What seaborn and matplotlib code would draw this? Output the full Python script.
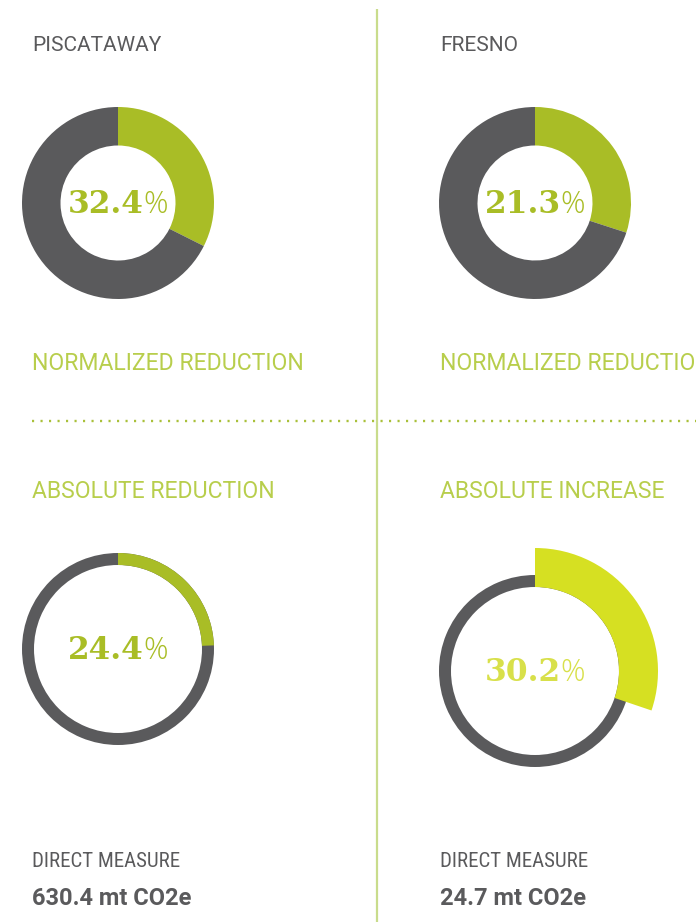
import matplotlib
matplotlib.use("Agg")
import matplotlib.pyplot as plt
import seaborn as sns
from matplotlib import font_manager

# values
sites = ['PISCATAWAY', 'FRESNO']
normalized_pct = [32.4, 21.3]        # printed in the ring centre
normalized_arc = [32.4, 30.0]        # share the green arc actually covers
absolute_labels = ['ABSOLUTE REDUCTION', 'ABSOLUTE INCREASE']
absolute_pct = [24.4, 30.2]
direct_measure = ['630.4 mt CO2e', '24.7 mt CO2e']

GREEN = '#A9BD26'
LABEL_GREEN = '#B8CE4C'
YELLOW = '#D6E022'
YELLOW_TXT = '#D8E04A'
GRAY = '#5A5A5C'
LINE_GREEN = '#C9DC8C'

sns.set_theme(style='white')

available = {f.name for f in font_manager.fontManager.ttflist}
def pick(*names):
    for n in names:
        if n in available:
            return n
    return 'DejaVu Sans'

COND = pick('Roboto Condensed', 'Liberation Sans Narrow', 'DejaVu Sans')
SANS = pick('Roboto', 'DejaVu Sans')
SLAB = pick('DejaVu Serif')
THIN = pick('Open Sans', 'Lato', 'DejaVu Sans')
plt.rcParams['font.family'] = [SANS, 'DejaVu Sans']

W, H = 696, 922
fig = plt.figure(figsize=(W / 100, H / 100), dpi=100)
ax = fig.add_axes([0, 0, 1, 1])

col_x = [32, 440]          # left edge of text columns
ring_cx = [118, 535]
top_cy = H - 203
bot_cy = [H - 649, H - 671]


def center_number(cx, cy, value, color):
    t1 = ax.text(cx, cy, f'{value:.1f}', fontfamily=SLAB, fontweight='bold',
                 fontsize=22.5, color=color, ha='left', va='baseline')
    t2 = ax.text(cx, cy, '%', fontfamily=THIN, fontweight='light',
                 fontsize=22, color=color, ha='left', va='baseline')
    return t1, t2


pairs = []
for i, site in enumerate(sites):
    ax.text(col_x[i], H - 51, site, fontsize=15, color=GRAY, ha='left',
            va='baseline')
    v = normalized_arc[i]
    ax.pie([v, 100 - v], center=(ring_cx[i], top_cy), radius=96,
           startangle=90, counterclock=False, colors=[GREEN, GRAY],
           wedgeprops=dict(width=38.5, linewidth=0))
    pairs.append((ring_cx[i], top_cy - 10,
                  center_number(ring_cx[i], top_cy - 10, normalized_pct[i], GREEN)))
    ax.text(col_x[i], H - 370, 'NORMALIZED REDUCTION', fontsize=16.6,
            color=LABEL_GREEN, ha='left', va='baseline')

    ax.text(col_x[i], H - 498, absolute_labels[i], fontsize=16.6,
            color=LABEL_GREEN, ha='left', va='baseline')

    a = absolute_pct[i]
    ax.pie([100], center=(ring_cx[i], bot_cy[i]), radius=96, colors=[GRAY],
           wedgeprops=dict(width=12, linewidth=0))
    if i == 0:
        ax.pie([a, 100 - a], center=(ring_cx[i], bot_cy[i]), radius=96,
               startangle=90, counterclock=False, colors=[GREEN, 'none'],
               wedgeprops=dict(width=12, linewidth=0))
        c = GREEN
    else:
        ax.pie([a, 100 - a], center=(ring_cx[i], bot_cy[i]), radius=123,
               startangle=90, counterclock=False, colors=[YELLOW, 'none'],
               wedgeprops=dict(width=39, linewidth=0))
        c = YELLOW_TXT
    pairs.append((ring_cx[i], bot_cy[i] - 10,
                  center_number(ring_cx[i], bot_cy[i] - 10, a, c)))

    ax.text(col_x[i], H - 867, 'DIRECT MEASURE', fontsize=15, color=GRAY,
            fontfamily=[COND, 'DejaVu Sans'], ha='left', va='baseline')
    ax.text(col_x[i], H - 905, direct_measure[i], fontsize=17, color=GRAY,
            fontweight='bold', ha='left', va='baseline')

# divider and dotted separator
ax.plot([377, 377], [0, H - 9], color=LINE_GREEN, lw=1.6, solid_capstyle='butt')
ax.plot([32, W], [H - 421, H - 421], color='#A9C03A', lw=1.7,
        linestyle=(0, (0.9, 2.7)))

ax.set_xlim(0, W)
ax.set_ylim(0, H)
ax.set_aspect('auto')
ax.set_axis_off()

# centre the "number + %" pairs
fig.canvas.draw()
r = fig.canvas.get_renderer()
for cx, cy, (t1, t2) in pairs:
    w1 = t1.get_window_extent(r).width
    w2 = t2.get_window_extent(r).width
    x0 = cx - (w1 + w2) / 2
    t1.set_x(x0)
    t2.set_x(x0 + w1)

fig.savefig('out.png', dpi=100, facecolor='white')
